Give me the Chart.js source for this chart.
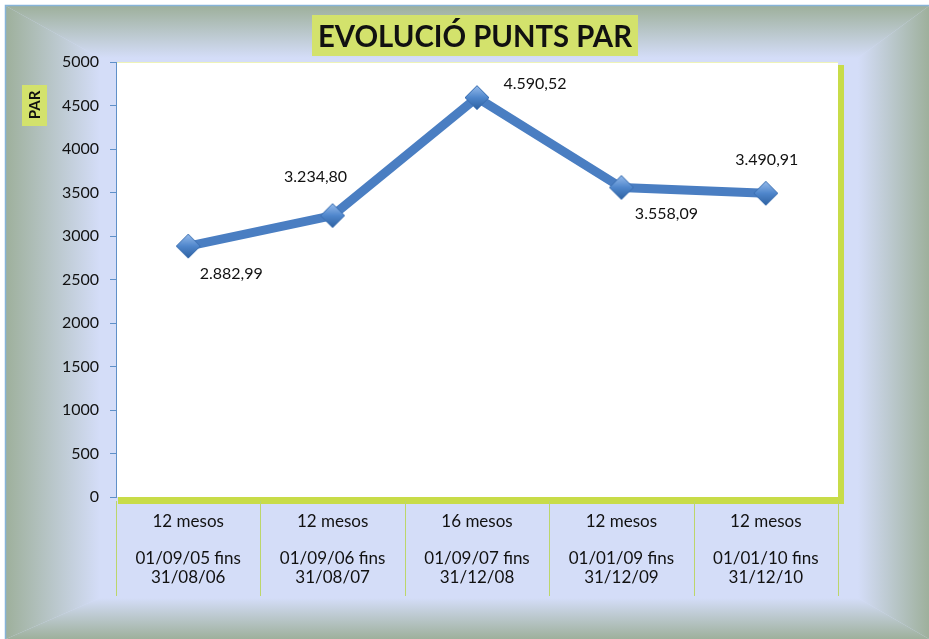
<!DOCTYPE html>
<html>
<head>
<meta charset="utf-8">
<script src="https://cdn.jsdelivr.net/npm/chart.js@4.4.1/dist/chart.umd.min.js"></script>
<style>
  body { margin: 0; background: #fff; }
  #wrap { width: 929px; height: 639px; }
</style>
</head>
<body>
<div id="wrap"><canvas id="parChart" width="929" height="639"></canvas></div>
<script>
// Data
const periods = ["12 mesos", "12 mesos", "16 mesos", "12 mesos", "12 mesos"];
const dateFrom = ["01/09/05 fins", "01/09/06 fins", "01/09/07 fins", "01/01/09 fins", "01/01/10 fins"];
const dateTo = ["31/08/06", "31/08/07", "31/12/08", "31/12/09", "31/12/10"];
const parPoints = [2882.99, 3234.80, 4590.52, 3558.09, 3490.91];
const yTicks = [0, 500, 1000, 1500, 2000, 2500, 3000, 3500, 4000, 4500, 5000];

// where each value label sits relative to its point (dx, dy)
const labelOffsets = [[43, 28], [-17, -39], [58, -14], [45, 26], [1, -33]];

const FONT = "Lato, 'Open Sans', sans-serif";

// catalan number format: 4.590,52
function fmtCa(v) {
    let parts = v.toFixed(2).split(".");
    parts[0] = parts[0].replace(/\B(?=(\d{3})+(?!\d))/g, ".");
    return parts.join(",");
}

// diamond marker with a bit of shading
function makeDiamond(r) {
    let c = document.createElement("canvas");
    c.width = r * 2 + 2;
    c.height = r * 2 + 2;
    let g = c.getContext("2d");
    let m = r + 1;
    let grad = g.createLinearGradient(0, 0, 0, c.height);
    grad.addColorStop(0, "#9cc0ee");
    grad.addColorStop(0.5, "#4f86cc");
    grad.addColorStop(1, "#2c5f9e");
    g.beginPath();
    g.moveTo(m, 1);
    g.lineTo(c.width - 1, m);
    g.lineTo(m, c.height - 1);
    g.lineTo(1, m);
    g.closePath();
    g.fillStyle = grad;
    g.fill();
    g.strokeStyle = "#3a6eb0";
    g.lineWidth = 1;
    g.stroke();
    return c;
}

const frame = {
    id: "frame",
    beforeDraw(chart) {
        const ctx = chart.ctx;
        const W = chart.width, H = chart.height;
        const a = chart.chartArea;
        const edge = "#9eb09c", mid = "#d4ddf8";
        const o = { l: 6, t: 6, r: W, b: H };
        const i = { l: 100, t: 58, r: 858, b: 598 };

        ctx.save();
        ctx.fillStyle = "#ffffff";
        ctx.fillRect(0, 0, W, H);
        ctx.fillStyle = mid;
        ctx.fillRect(o.l, o.t, o.r - o.l, o.b - o.t);

        function bevel(pts, x0, y0, x1, y1) {
            let g = ctx.createLinearGradient(x0, y0, x1, y1);
            g.addColorStop(0, edge);
            g.addColorStop(1, mid);
            ctx.beginPath();
            ctx.moveTo(pts[0][0], pts[0][1]);
            for (let k = 1; k < pts.length; k++) ctx.lineTo(pts[k][0], pts[k][1]);
            ctx.closePath();
            ctx.fillStyle = g;
            ctx.fill();
        }
        bevel([[o.l, o.t], [o.r, o.t], [i.r, i.t], [i.l, i.t]], 0, o.t, 0, i.t);
        bevel([[o.l, o.b], [o.r, o.b], [i.r, i.b], [i.l, i.b]], 0, o.b, 0, i.b);
        bevel([[o.l, o.t], [i.l, i.t], [i.l, i.b], [o.l, o.b]], o.l, 0, i.l, 0);
        bevel([[o.r, o.t], [i.r, i.t], [i.r, i.b], [o.r, o.b]], o.r, 0, i.r, 0);

        // outer thin border
        ctx.strokeStyle = "#86b3d8";
        ctx.lineWidth = 1.5;
        ctx.beginPath();
        ctx.moveTo(5.5, H);
        ctx.lineTo(5.5, 5.5);
        ctx.lineTo(W, 5.5);
        ctx.stroke();

        // plot area with yellow-green shadow
        ctx.fillStyle = "#c8dc48";
        ctx.fillRect(a.left + 2, a.top + 3, a.right - a.left + 4, a.bottom - a.top + 4);
        ctx.fillStyle = "#ffffff";
        ctx.fillRect(a.left, a.top, a.right - a.left, a.bottom - a.top);
        ctx.strokeStyle = "#eef3b8";
        ctx.lineWidth = 1;
        ctx.beginPath();
        ctx.moveTo(a.left, a.top + 0.5);
        ctx.lineTo(a.right, a.top + 0.5);
        ctx.stroke();

        // category separators
        const step = (a.right - a.left) / periods.length;
        ctx.strokeStyle = "#bcd66a";
        ctx.lineWidth = 1;
        for (let k = 0; k <= periods.length; k++) {
            let x = Math.round(a.left + k * step) + 0.5;
            ctx.beginPath();
            ctx.moveTo(x, a.bottom + 4);
            ctx.lineTo(x, 596);
            ctx.stroke();
        }

        // title
        const title = "EVOLUCIÓ PUNTS PAR";
        ctx.font = "bold 31px " + FONT;
        let tw = ctx.measureText(title).width;
        let target = 314;
        ctx.fillStyle = "#d3e26c";
        ctx.fillRect(312, 15, 326, 41);
        ctx.save();
        ctx.translate(475, 37);
        ctx.scale(Math.min(1, target / tw), 1);
        ctx.fillStyle = "#111111";
        ctx.textAlign = "center";
        ctx.textBaseline = "middle";
        ctx.fillText(title, 0, 0);
        ctx.restore();

        // y axis title
        ctx.fillStyle = "#d3e26c";
        ctx.fillRect(22, 85, 25, 41);
        ctx.save();
        ctx.translate(35, 105);
        ctx.rotate(-Math.PI / 2);
        ctx.font = "bold 15px " + FONT;
        ctx.fillStyle = "#111111";
        ctx.textAlign = "center";
        ctx.textBaseline = "middle";
        ctx.fillText("PAR", 0, 0);
        ctx.restore();

        ctx.restore();
    },
    afterDatasetsDraw(chart) {
        const ctx = chart.ctx;
        const meta = chart.getDatasetMeta(0);
        ctx.save();
        ctx.font = "16px " + FONT;
        ctx.fillStyle = "#111111";
        ctx.textAlign = "center";
        ctx.textBaseline = "middle";
        meta.data.forEach((pt, k) => {
            let off = labelOffsets[k];
            ctx.fillText(fmtCa(parPoints[k]), pt.x + off[0], pt.y + off[1]);
        });
        ctx.restore();
    }
};

const ctx = document.getElementById("parChart").getContext("2d");
const labels = periods.map((p, k) => [p, "", dateFrom[k], dateTo[k]]);

new Chart(ctx, {
    type: "line",
    data: {
        labels: labels,
        datasets: [{
            label: "PAR",
            data: parPoints,
            borderColor: "#4a7ec2",
            borderWidth: 9,
            pointStyle: makeDiamond(12),
            pointRadius: 12,
            pointHoverRadius: 12,
            tension: 0,
            fill: false
        }]
    },
    options: {
        responsive: false,
        animation: false,
        events: [],
        layout: { padding: { left: 0, top: 62, right: 91, bottom: 0 } },
        plugins: {
            legend: { display: false },
            tooltip: { enabled: false },
            title: { display: false }
        },
        scales: {
            x: {
                offset: true,
                grid: { display: false, drawTicks: false },
                border: { display: false },
                afterFit(scale) { scale.height = 142; },
                ticks: {
                    autoSkip: false,
                    maxRotation: 0,
                    padding: 15,
                    color: "#111111",
                    font: { family: FONT, size: 17, lineHeight: 1.1 }
                }
            },
            y: {
                min: 0,
                max: 5000,
                afterFit(scale) { scale.width = 116; },
                afterBuildTicks(scale) { scale.ticks = yTicks.map(v => ({ value: v })); },
                grid: { drawOnChartArea: false, drawTicks: true, tickLength: 6, color: "#5f90c8" },
                border: { display: true, color: "#5f90c8", width: 1 },
                ticks: {
                    padding: 11,
                    color: "#111111",
                    font: { family: FONT, size: 16 },
                    callback: v => String(v)
                }
            }
        }
    },
    plugins: [frame]
});
</script>
</body>
</html>
